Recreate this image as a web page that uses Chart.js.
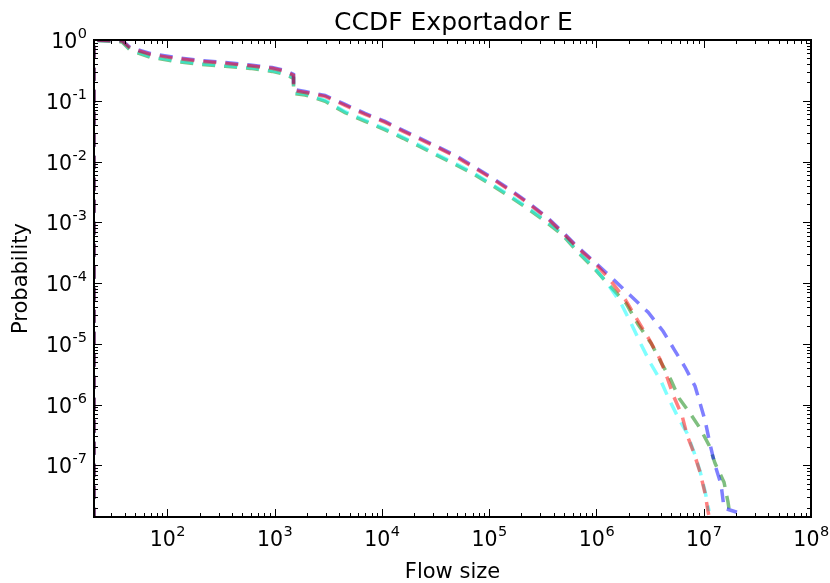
<!DOCTYPE html>
<html>
<head>
<meta charset="utf-8">
<script src="https://cdn.jsdelivr.net/npm/chart.js@4"></script>
<style>
  html, body { margin: 0; padding: 0; background: #fff; }
  #c { display: block; }
</style>
</head>
<body>
<canvas id="c" width="830" height="583"></canvas>
<script>
// Flow size (x) and CCDF (y) per series
const xRed = [20.7, 20.7, 37.9, 45, 69.1, 118, 202, 346, 591, 948, 1253, 1500, 1500, 1924, 2955, 4540, 6970, 10710, 15770, 21750, 32700, 50200, 73900, 108700, 160000, 230500, 339300, 478000, 674000, 970000,
  1.368e6, 1.848e6, 2.39e6, 3.09e6, 3.92e6, 4.55e6, 5.29e6, 6.27e6, 6.99e6, 8.12e6, 9.24e6, 1.028e7, 1.096e7, 1.12e7];
const yRed = [1e-9, 0.99, 0.96, 0.73, 0.58, 0.50, 0.447, 0.413, 0.376, 0.342, 0.305, 0.262, 0.148, 0.137, 0.118, 0.0838, 0.0596, 0.0441, 0.0313, 0.0240, 0.0171, 0.0117, 0.00772, 0.00509, 0.00324, 0.00205, 0.00121, 6.85e-4, 3.74e-4, 2.11e-4,
  1.07e-4, 5.39e-5, 2.53e-5, 1.19e-5, 5.56e-6, 2.81e-6, 1.32e-6, 6.67e-7, 3.13e-7, 1.58e-7, 7.70e-8, 3.48e-8, 1.76e-8, 1.45e-8];

const xBlue = [20.7, 20.7, 37.9, 45, 69.1, 118, 202, 346, 591, 948, 1253, 1500, 1500, 1924, 2955, 4540, 6970, 10710, 15770, 21750, 32700, 50200, 73900, 108700, 160000, 230500, 339300, 478000, 674000, 970000,
  1.40e6, 2.06e6, 3.03e6, 4.18e6, 5.29e6, 6.70e6, 8.30e6, 9.24e6, 1.028e7, 1.145e7, 1.275e7, 1.45e7, 1.546e7, 2.04e7];
const yBlue = [1e-9, 0.99, 0.981, 0.753, 0.600, 0.516, 0.460, 0.426, 0.388, 0.353, 0.315, 0.271, 0.1534, 0.1422, 0.1223, 0.0869, 0.0618, 0.0457, 0.0325, 0.0249, 0.0177, 0.01213, 0.0080, 0.00527, 0.00335, 0.00212, 0.00125, 7.09e-4, 3.87e-4, 2.19e-4,
  1.20e-4, 6.28e-5, 3.30e-5, 1.61e-5, 8.12e-6, 4.11e-6, 2.00e-6, 1.05e-6, 5.52e-7, 2.22e-7, 1.00e-7, 4.89e-8, 1.97e-8, 1.69e-8];

const xCyan = [20.7, 20.7, 37.9, 45, 69.1, 118, 202, 346, 591, 948, 1253, 1500, 1500, 1924, 2955, 4540, 6970, 10710, 15770, 21750, 32700, 50200, 73900, 108700, 160000, 230500, 339300, 478000, 674000, 970000,
  1.283e6, 1.695e6, 2.10e6, 2.60e6, 3.23e6, 4.00e6, 4.75e6, 5.76e6, 6.99e6, 8.12e6, 9.24e6, 1.028e7, 1.12e7];
const yCyan = [1e-9, 0.99, 0.945, 0.698, 0.535, 0.460, 0.411, 0.381, 0.353, 0.315, 0.281, 0.242, 0.1369, 0.1295, 0.1019, 0.0661, 0.0478, 0.0345, 0.0251, 0.0190, 0.01308, 0.00896, 0.00626, 0.00412, 0.00267, 0.00173, 0.001055, 6.57e-4, 3.32e-4, 1.75e-4,
  9.52e-5, 4.64e-5, 2.17e-5, 9.81e-6, 4.60e-6, 2.42e-6, 1.22e-6, 6.18e-7, 3.37e-7, 1.64e-7, 8.00e-8, 3.75e-8, 1.76e-8];

const xGreen = [20.7, 20.7, 37.9, 45, 69.1, 118, 202, 346, 591, 948, 1253, 1500, 1500, 1924, 2955, 4540, 6970, 10710, 15770, 21750, 32700, 50200, 73900, 108700, 160000, 230500, 339300, 478000, 674000, 970000,
  1.33e6, 1.888e6, 2.44e6, 3.23e6, 4.00e6, 4.96e6, 5.89e6, 7.45e6, 9.24e6, 1.12e7, 1.275e7, 1.546e7, 1.685e7, 1.76e7];
const yGreen = [1e-9, 0.99, 0.93, 0.68, 0.52, 0.445, 0.397, 0.368, 0.341, 0.304, 0.271, 0.234, 0.132, 0.1245, 0.098, 0.0635, 0.0459, 0.0331, 0.0241, 0.0182, 0.01256, 0.0086, 0.00601, 0.00396, 0.00256, 0.00166, 0.00101, 6.3e-4, 3.19e-4, 1.68e-4,
  9.0e-5, 4.64e-5, 2.09e-5, 1.02e-5, 4.96e-6, 2.51e-6, 1.27e-6, 7.19e-7, 4.07e-7, 2.14e-7, 1.08e-7, 5.27e-8, 2.47e-8, 1.45e-8];

// axis ranges and decade labels
const xMin = 20.7, xMax = 1e8;
const yMin = 1.41e-8, yMax = 1;
const xTickExps = [2, 3, 4, 5, 6, 7, 8];
const yTickExps = [0, -1, -2, -3, -4, -5, -6, -7];

const FONT = '"DejaVu Sans", sans-serif';

function toPoints(xs, ys) {
  return xs.map((x, i) => ({ x: x, y: ys[i] }));
}

function series(xs, ys, color) {
  return {
    data: toPoints(xs, ys),
    borderColor: color,
    borderWidth: 3.5,
    borderDash: [13, 9],
    borderCapStyle: 'butt',
    pointRadius: 0,
    showLine: true,
    tension: 0,
    fill: false
  };
}

// frame, inward ticks, superscript labels and titles (matplotlib look)
const framePlugin = {
  id: 'framePlugin',
  afterDraw(chart) {
    const ctx = chart.ctx;
    const a = chart.chartArea;
    const xs = chart.scales.x, ys = chart.scales.y;
    ctx.save();
    ctx.strokeStyle = '#000';
    ctx.lineWidth = 1;

    const seg = (x1, y1, x2, y2) => {
      ctx.beginPath(); ctx.moveTo(x1, y1); ctx.lineTo(x2, y2); ctx.stroke();
    };

    // x ticks, top and bottom
    for (let d = 1; d <= 8; d++) {
      for (let k = 1; k <= 9; k++) {
        const v = k * Math.pow(10, d);
        if (v < xMin || v > xMax) continue;
        const px = Math.round(xs.getPixelForValue(v)) + 0.5;
        const len = k === 1 ? 8 : 4;
        seg(px, a.bottom, px, a.bottom - len);
        seg(px, a.top, px, a.top + len);
      }
    }
    // y ticks, left and right
    for (let d = -8; d <= 0; d++) {
      for (let k = 1; k <= 9; k++) {
        const v = k * Math.pow(10, d);
        if (v < yMin || v > yMax) continue;
        const py = Math.round(ys.getPixelForValue(v)) + 0.5;
        const len = k === 1 ? 8 : 4;
        seg(a.left, py, a.left + len, py);
        seg(a.right, py, a.right - len, py);
      }
    }

    // frame
    ctx.lineWidth = 2;
    ctx.strokeRect(a.left, a.top, a.right - a.left, a.bottom - a.top);

    ctx.fillStyle = '#000';
    ctx.textBaseline = 'alphabetic';
    const baseFont = '20.5px ' + FONT;
    const supFont = '14.5px ' + FONT;

    // x tick labels
    xTickExps.forEach(e => {
      const px = xs.getPixelForValue(Math.pow(10, e));
      ctx.font = baseFont;
      const wb = ctx.measureText('10').width;
      ctx.font = supFont;
      const ws = ctx.measureText(String(e)).width;
      const x0 = px - (wb + ws) / 2;
      ctx.textAlign = 'left';
      ctx.font = baseFont;
      ctx.fillText('10', x0, 546);
      ctx.font = supFont;
      ctx.fillText(String(e), x0 + wb + 0.5, 536);
    });

    // y tick labels
    yTickExps.forEach(e => {
      const py = ys.getPixelForValue(Math.pow(10, e));
      ctx.font = supFont;
      const ws = ctx.measureText(String(e)).width;
      ctx.font = baseFont;
      const wb = ctx.measureText('10').width;
      const right = 87;
      ctx.textAlign = 'left';
      ctx.fillText('10', right - ws - wb - 0.5, py + 8);
      ctx.font = supFont;
      ctx.fillText(String(e), right - ws, py - 2);
    });

    // title and axis titles
    const cx = (a.left + a.right) / 2;
    ctx.textAlign = 'center';
    ctx.font = '25px ' + FONT;
    ctx.fillText('CCDF Exportador E', cx + 1, 30);
    ctx.font = '21px ' + FONT;
    ctx.fillText('Flow size', cx, 578);

    ctx.save();
    ctx.translate(27, (a.top + a.bottom) / 2);
    ctx.rotate(-Math.PI / 2);
    ctx.fillText('Probability', 0, 0);
    ctx.restore();

    ctx.restore();
  }
};

const ctx = document.getElementById('c').getContext('2d');
new Chart(ctx, {
  type: 'scatter',
  data: {
    datasets: [
      series(xRed, yRed, 'rgba(255, 0, 0, 0.5)'),
      series(xBlue, yBlue, 'rgba(0, 0, 255, 0.5)'),
      series(xCyan, yCyan, 'rgba(0, 255, 255, 0.5)'),
      series(xGreen, yGreen, 'rgba(0, 128, 0, 0.5)')
    ]
  },
  options: {
    responsive: false,
    devicePixelRatio: 1,
    animation: false,
    layout: { padding: { left: 94, top: 40, right: 19, bottom: 66 } },
    plugins: {
      legend: { display: false },
      title: { display: false },
      tooltip: { enabled: false }
    },
    scales: {
      x: { type: 'logarithmic', min: xMin, max: xMax, display: false },
      y: { type: 'logarithmic', min: yMin, max: yMax, display: false }
    }
  },
  plugins: [framePlugin]
});
</script>
</body>
</html>
